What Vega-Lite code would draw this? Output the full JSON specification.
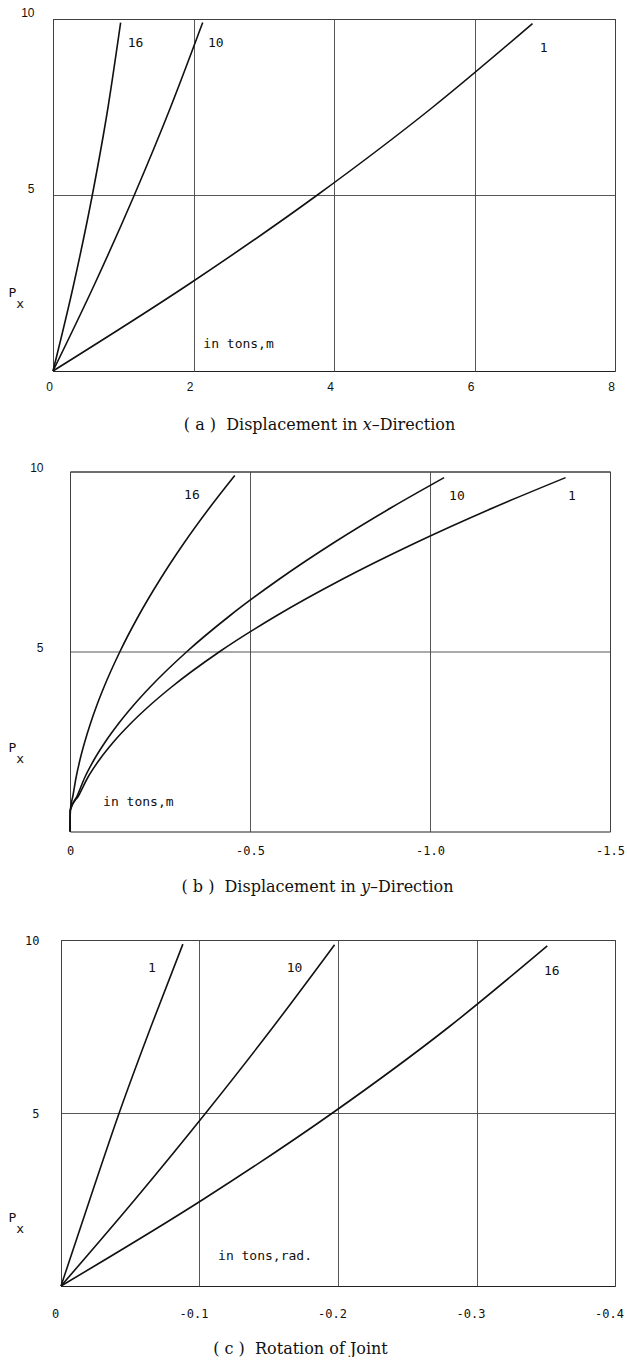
{
  "$schema": "https://vega.github.io/schema/vega-lite/v6.json",
  "background": "white",
  "padding": {"left": 6, "top": 5, "right": 5, "bottom": 0},
  "config": {
    "view": {"stroke": "#222", "strokeWidth": 1},
    "axis": {
      "grid": true,
      "gridColor": "#444",
      "gridWidth": 0.9,
      "ticks": false,
      "tickSize": 0,
      "domain": false,
      "labelColor": "#111",
      "titleColor": "#111",
      "labelFlush": false,
      "labelOverlap": false,
      "labelBound": false,
      "titleFontWeight": "normal"
    }
  },
  "datasets": {
    "dispX": [
      {"curve": "16", "d": 0, "p": 0},
      {"curve": "16", "d": 0.299, "p": 2.5},
      {"curve": "16", "d": 0.56, "p": 5.0},
      {"curve": "16", "d": 0.784, "p": 7.5},
      {"curve": "16", "d": 0.963, "p": 9.9},
      {"curve": "10", "d": 0, "p": 0},
      {"curve": "10", "d": 0.6, "p": 2.5},
      {"curve": "10", "d": 1.158, "p": 5.0},
      {"curve": "10", "d": 1.675, "p": 7.5},
      {"curve": "10", "d": 2.131, "p": 9.9},
      {"curve": "1", "d": 0, "p": 0},
      {"curve": "1", "d": 1.959, "p": 2.5},
      {"curve": "1", "d": 3.763, "p": 5.0},
      {"curve": "1", "d": 5.409, "p": 7.5},
      {"curve": "1", "d": 6.826, "p": 9.87}
    ],
    "dispY": [
      {"curve": "16", "d": 0, "p": 0},
      {"curve": "16", "d": -0.001, "p": 0.6},
      {"curve": "16", "d": -0.0083, "p": 1.0},
      {"curve": "16", "d": -0.0169, "p": 1.5},
      {"curve": "16", "d": -0.0279, "p": 2.0},
      {"curve": "16", "d": -0.0413, "p": 2.5},
      {"curve": "16", "d": -0.0568, "p": 3.0},
      {"curve": "16", "d": -0.0743, "p": 3.5},
      {"curve": "16", "d": -0.0939, "p": 4.0},
      {"curve": "16", "d": -0.1388, "p": 5.0},
      {"curve": "16", "d": -0.1909, "p": 6.0},
      {"curve": "16", "d": -0.2501, "p": 7.0},
      {"curve": "16", "d": -0.3158, "p": 8.0},
      {"curve": "16", "d": -0.3882, "p": 9.0},
      {"curve": "16", "d": -0.4577, "p": 9.89},
      {"curve": "10", "d": 0, "p": 0},
      {"curve": "10", "d": -0.001, "p": 0.6},
      {"curve": "10", "d": -0.0204, "p": 1.0},
      {"curve": "10", "d": -0.041, "p": 1.5},
      {"curve": "10", "d": -0.0672, "p": 2.0},
      {"curve": "10", "d": -0.0987, "p": 2.5},
      {"curve": "10", "d": -0.135, "p": 3.0},
      {"curve": "10", "d": -0.176, "p": 3.5},
      {"curve": "10", "d": -0.2214, "p": 4.0},
      {"curve": "10", "d": -0.325, "p": 5.0},
      {"curve": "10", "d": -0.4447, "p": 6.0},
      {"curve": "10", "d": -0.5798, "p": 7.0},
      {"curve": "10", "d": -0.7293, "p": 8.0},
      {"curve": "10", "d": -0.8931, "p": 9.0},
      {"curve": "10", "d": -1.0392, "p": 9.83},
      {"curve": "1", "d": 0, "p": 0},
      {"curve": "1", "d": -0.001, "p": 0.6},
      {"curve": "1", "d": -0.0241, "p": 1.0},
      {"curve": "1", "d": -0.0494, "p": 1.5},
      {"curve": "1", "d": -0.0822, "p": 2.0},
      {"curve": "1", "d": -0.122, "p": 2.5},
      {"curve": "1", "d": -0.1685, "p": 3.0},
      {"curve": "1", "d": -0.2214, "p": 3.5},
      {"curve": "1", "d": -0.2804, "p": 4.0},
      {"curve": "1", "d": -0.4161, "p": 5.0},
      {"curve": "1", "d": -0.5746, "p": 6.0},
      {"curve": "1", "d": -0.7548, "p": 7.0},
      {"curve": "1", "d": -0.9561, "p": 8.0},
      {"curve": "1", "d": -1.1775, "p": 9.0},
      {"curve": "1", "d": -1.3766, "p": 9.83}
    ],
    "rotation": [
      {"curve": "1", "d": 0, "p": 0},
      {"curve": "1", "d": -0.0208, "p": 2.5},
      {"curve": "1", "d": -0.042, "p": 5.0},
      {"curve": "1", "d": -0.065, "p": 7.5},
      {"curve": "1", "d": -0.088, "p": 9.88},
      {"curve": "10", "d": 0, "p": 0},
      {"curve": "10", "d": -0.0534, "p": 2.5},
      {"curve": "10", "d": -0.1045, "p": 5.0},
      {"curve": "10", "d": -0.1534, "p": 7.5},
      {"curve": "10", "d": -0.1975, "p": 9.86},
      {"curve": "16", "d": 0, "p": 0},
      {"curve": "16", "d": -0.1025, "p": 2.5},
      {"curve": "16", "d": -0.196, "p": 5.0},
      {"curve": "16", "d": -0.2805, "p": 7.5},
      {"curve": "16", "d": -0.3511, "p": 9.83}
    ],
    "notes": [
      {"panel": "a", "text": "16", "d": 1.064, "p": 9.33},
      {"panel": "a", "text": "10", "d": 2.207, "p": 9.33},
      {"panel": "a", "text": "1", "d": 6.93, "p": 9.19},
      {"panel": "a", "text": "in tons,m", "d": 2.14, "p": 0.76},
      {"panel": "b", "text": "16", "d": -0.317, "p": 9.36},
      {"panel": "b", "text": "10", "d": -1.053, "p": 9.33},
      {"panel": "b", "text": "1", "d": -1.383, "p": 9.33},
      {"panel": "b", "text": "in tons,m", "d": -0.092, "p": 0.83},
      {"panel": "c", "text": "1", "d": -0.0628, "p": 9.19},
      {"panel": "c", "text": "10", "d": -0.163, "p": 9.19},
      {"panel": "c", "text": "16", "d": -0.3487, "p": 9.1},
      {"panel": "c", "text": "in tons,rad.", "d": -0.1134, "p": 0.87}
    ]
  },
  "spacing": 38,
  "vconcat": [
    {
      "spacing": 27.5,
      "vconcat": [
        {
          "spacing": 0,
          "hconcat": [
            {
              "width": 1, "height": 1,
              "view": {"stroke": null},
              "data": {"values": []},
              "mark": {"type": "point", "opacity": 0}
            },
            {
              "width": 562,
              "height": 352,
              "encoding": {
                "x": {
                  "field": "d", "type": "quantitative",
                  "scale": {"domain": [0, 8], "nice": false, "zero": false},
                  "axis": {
                    "values": [0, 2, 4, 6, 8],
                    "labelFont": "Liberation Sans", "labelFontSize": 12, "labelPadding": 10, "labelOffset": -4,
                    "title": "( a )\u00a0\u00a0Displacement in \ud835\udc65\u2013Direction",
                    "titleFont": "DejaVu Serif", "titleFontSize": 16,
                    "titleX": 266, "titleY": 53, "titleAlign": "center", "titleBaseline": "middle"
                  }
                },
                "y": {
                  "field": "p", "type": "quantitative",
                  "scale": {"domain": [0, 10], "nice": false, "zero": false},
                  "axis": {
                    "values": [5, 10],
                    "labelFont": "Liberation Sans", "labelFontSize": 12, "labelPadding": 19,
                    "labelBaseline": "middle", "labelOffset": -7,
                    "title": ["P", "\u200b\u00a0x"], "titleFont": "DejaVu Sans Mono", "titleFontSize": 13,
                    "titleAngle": 0, "titleAlign": "left", "titleBaseline": "alphabetic",
                    "titleX": -45, "titleY": 277, "titleLineHeight": 11
                  }
                }
              },
              "layer": [
                {
                  "data": {"name": "dispX"},
                  "mark": {"type": "line", "interpolate": "monotone", "color": "#111", "strokeWidth": 1.6},
                  "encoding": {"detail": {"field": "curve"}}
                },
                {
                  "data": {"name": "notes"},
                  "transform": [{"filter": "datum.panel == 'a'"}],
                  "mark": {"type": "text", "align": "left", "baseline": "middle", "font": "DejaVu Sans Mono", "fontSize": 13, "color": "#111"},
                  "encoding": {"text": {"field": "text"}}
                }
              ]
            }
          ]
        },
        {
          "spacing": 0,
          "hconcat": [
            {
              "width": 1, "height": 1,
              "view": {"stroke": null},
              "data": {"values": []},
              "mark": {"type": "point", "opacity": 0}
            },
            {
              "width": 540,
              "height": 360,
              "encoding": {
                "x": {
                  "field": "d", "type": "quantitative",
                  "scale": {"domain": [0, -1.5], "nice": false, "zero": false},
                  "axis": {
                    "values": [0, -0.5, -1.0, -1.5],
                    "labelExpr": "datum.value == 0 ? '0' : '-' + format(-datum.value, '.1f')",
                    "labelFont": "DejaVu Sans Mono", "labelFontSize": 12, "labelPadding": 14,
                    "title": "( b )\u00a0\u00a0Displacement in \ud835\udc66\u2013Direction",
                    "titleFont": "DejaVu Serif", "titleFontSize": 16,
                    "titleX": 247, "titleY": 55, "titleAlign": "center", "titleBaseline": "middle"
                  }
                },
                "y": {
                  "field": "p", "type": "quantitative",
                  "scale": {"domain": [0, 10], "nice": false, "zero": false},
                  "axis": {
                    "values": [5, 10],
                    "labelFont": "Liberation Sans", "labelFontSize": 12, "labelPadding": 27,
                    "labelBaseline": "middle", "labelOffset": -4,
                    "title": ["P", "\u200b\u00a0x"], "titleFont": "DejaVu Sans Mono", "titleFontSize": 13,
                    "titleAngle": 0, "titleAlign": "left", "titleBaseline": "alphabetic",
                    "titleX": -62, "titleY": 280, "titleLineHeight": 11
                  }
                }
              },
              "layer": [
                {
                  "data": {"name": "dispY"},
                  "mark": {"type": "line", "interpolate": "monotone", "color": "#111", "strokeWidth": 1.6},
                  "encoding": {"detail": {"field": "curve"}}
                },
                {
                  "data": {"name": "notes"},
                  "transform": [{"filter": "datum.panel == 'b'"}],
                  "mark": {"type": "text", "align": "left", "baseline": "middle", "font": "DejaVu Sans Mono", "fontSize": 13, "color": "#111"},
                  "encoding": {"text": {"field": "text"}}
                }
              ]
            }
          ]
        }
      ]
    },
    {
      "spacing": 0,
      "hconcat": [
        {
          "width": 1, "height": 1,
          "view": {"stroke": null},
          "data": {"values": []},
          "mark": {"type": "point", "opacity": 0}
        },
        {
          "width": 554,
          "height": 346,
          "encoding": {
            "x": {
              "field": "d", "type": "quantitative",
              "scale": {"domain": [0, -0.4], "nice": false, "zero": false},
              "axis": {
                "values": [0, -0.1, -0.2, -0.3, -0.4],
                "labelExpr": "datum.value == 0 ? '0' : '-' + format(-datum.value, '.1f')",
                "labelFont": "DejaVu Sans Mono", "labelFontSize": 12, "labelPadding": 22, "labelOffset": -6,
                "title": "( c )\u00a0\u00a0Rotation of Joint",
                "titleFont": "DejaVu Serif", "titleFontSize": 16,
                "titleX": 239, "titleY": 62, "titleAlign": "center", "titleBaseline": "middle"
              }
            },
            "y": {
              "field": "p", "type": "quantitative",
              "scale": {"domain": [0, 10], "nice": false, "zero": false},
              "axis": {
                "values": [5, 10],
                "labelFont": "DejaVu Sans Mono", "labelFontSize": 12, "labelPadding": 22,
                "labelBaseline": "middle", "labelOffset": 0,
                "title": ["P", "\u200b\u00a0x"], "titleFont": "DejaVu Sans Mono", "titleFontSize": 13,
                "titleAngle": 0, "titleAlign": "left", "titleBaseline": "alphabetic",
                "titleX": -53, "titleY": 281, "titleLineHeight": 11
              }
            }
          },
          "layer": [
            {
              "data": {"name": "rotation"},
              "mark": {"type": "line", "interpolate": "monotone", "color": "#111", "strokeWidth": 1.6},
              "encoding": {"detail": {"field": "curve"}}
            },
            {
              "data": {"name": "notes"},
              "transform": [{"filter": "datum.panel == 'c'"}],
              "mark": {"type": "text", "align": "left", "baseline": "middle", "font": "DejaVu Sans Mono", "fontSize": 13, "color": "#111"},
              "encoding": {"text": {"field": "text"}}
            }
          ]
        }
      ]
    }
  ]
}
